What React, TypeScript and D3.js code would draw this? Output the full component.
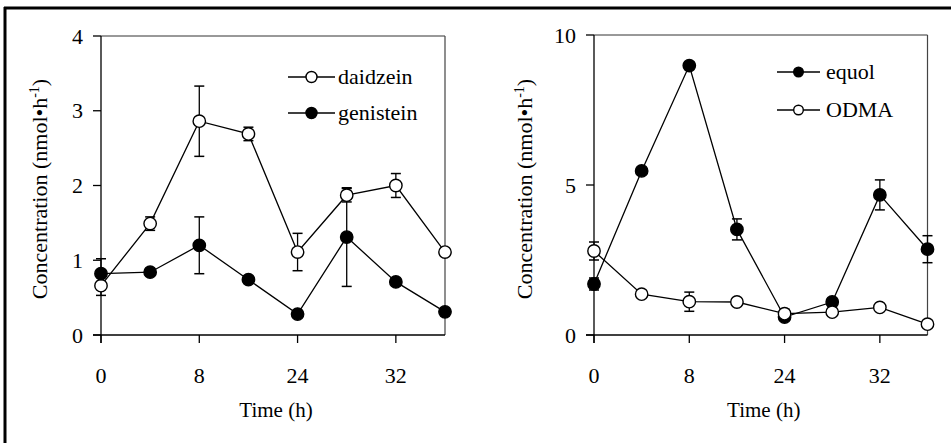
import React from "react";
import * as d3 from "d3";

// sample order (x positions are categorical, evenly spaced)
const sampleIdx = [0, 1, 2, 3, 4, 5, 6, 7];
const xTickIdx = [0, 2, 4, 6];
const xTickLabels = ["0", "8", "24", "32"];

// left panel
const daidzein = [0.66, 1.49, 2.86, 2.69, 1.11, 1.87, 2.0, 1.11];
const daidzeinErr = [0.13, 0.09, 0.47, 0.09, 0.25, 0.09, 0.16, 0];
const genistein = [0.82, 0.84, 1.2, 0.74, 0.28, 1.31, 0.71, 0.31];
const genisteinErr = [0.2, 0.04, 0.38, 0.04, 0.03, 0.66, 0.03, 0];
const leftYTicks = [0, 1, 2, 3, 4];

// right panel
const equol = [1.7, 5.47, 8.98, 3.52, 0.6, 1.1, 4.67, 2.86];
const equolErr = [0.2, 0.05, 0.12, 0.35, 0.05, 0.05, 0.5, 0.45];
const odma = [2.8, 1.36, 1.11, 1.1, 0.71, 0.76, 0.92, 0.36];
const odmaErr = [0.3, 0.05, 0.32, 0.1, 0.15, 0.03, 0.03, 0];
const rightYTicks = [0, 5, 10];

const FONT = "Liberation Serif, Times New Roman, DejaVu Serif, serif";
const tStyle = { fontFamily: FONT };

type Series = { name: string; values: number[]; err: number[]; filled: boolean };

function Panel(props: {
  x0: number; x1: number; yTop: number; yBot: number; yMax: number; yTicks: number[];
  series: Series[]; titleX: number;
  legend: { x0: number; x1: number; ys: number[]; r: number; textX: number };
}) {
  const { x0, x1, yTop, yBot, yMax, yTicks, series, titleX, legend } = props;
  const x = d3.scaleLinear().domain([0, 7]).range([x0, x1]);
  const y = d3.scaleLinear().domain([0, yMax]).range([yBot, yTop]);
  const line = d3.line<number>().x((_, i) => x(sampleIdx[i])).y((v) => y(v));
  const r = 6.2;
  return (
    <g>
      {/* frame */}
      <line x1={x0} x2={x1} y1={yTop} y2={yTop} stroke="#333" strokeWidth={1} />
      <line x1={x1} x2={x1} y1={yTop} y2={yBot} stroke="#444" strokeWidth={1.2} />
      {/* axes */}
      <line x1={x0} x2={x0} y1={yTop} y2={yBot + 8} stroke="#000" strokeWidth={1.3} />
      <line x1={x0 - 8} x2={x1} y1={yBot} y2={yBot} stroke="#000" strokeWidth={1.3} />
      {yTicks.map((t) => (
        <g key={"yt" + t}>
          <line x1={x0 - 8} x2={x0} y1={y(t)} y2={y(t)} stroke="#000" strokeWidth={1.3} />
          <text x={x0 - 18} y={y(t)} dy="0.35em" textAnchor="end" style={tStyle} fontSize={22}>{t}</text>
        </g>
      ))}
      {xTickIdx.map((t, i) => (
        <g key={"xt" + t}>
          <line x1={x(t)} x2={x(t)} y1={yBot} y2={yBot + 8} stroke="#000" strokeWidth={1.3} />
          <text x={x(t)} y={383} textAnchor="middle" style={tStyle} fontSize={22}>{xTickLabels[i]}</text>
        </g>
      ))}
      <text x={(x0 + x1) / 2 + 3} y={417} textAnchor="middle" style={tStyle} fontSize={21}>Time (h)</text>
      <text transform={`translate(${titleX},189) rotate(-90)`} textAnchor="middle" style={tStyle} fontSize={22}>
        Concentration (nmol•h<tspan fontSize={14} dy={-8}>-1</tspan><tspan dy={8}>)</tspan>
      </text>
      {/* series */}
      {series.map((s) => (
        <g key={s.name}>
          <path d={line(s.values) || ""} fill="none" stroke="#000" strokeWidth={1.3} />
          {s.values.map((v, i) => s.err[i] > 0 ? (
            <g key={"e" + i}>
              <line x1={x(sampleIdx[i])} x2={x(sampleIdx[i])} y1={y(v - s.err[i])} y2={y(v + s.err[i])} stroke="#000" strokeWidth={1.3} />
              <line x1={x(sampleIdx[i]) - 5} x2={x(sampleIdx[i]) + 5} y1={y(v - s.err[i])} y2={y(v - s.err[i])} stroke="#000" strokeWidth={1.5} />
              <line x1={x(sampleIdx[i]) - 5} x2={x(sampleIdx[i]) + 5} y1={y(v + s.err[i])} y2={y(v + s.err[i])} stroke="#000" strokeWidth={1.5} />
            </g>
          ) : null)}
        </g>
      ))}
      {series.map((s) => (
        <g key={s.name + "m"}>
          {s.values.map((v, i) => (
            <circle key={i} cx={x(sampleIdx[i])} cy={y(v)} r={r} fill={s.filled ? "#000" : "#fff"} stroke="#000" strokeWidth={1.4} />
          ))}
        </g>
      ))}
      {/* legend */}
      {series.map((s, i) => (
        <g key={s.name + "l"}>
          <line x1={legend.x0} x2={legend.x1} y1={legend.ys[i]} y2={legend.ys[i]} stroke="#000" strokeWidth={1.3} />
          <circle cx={(legend.x0 + legend.x1) / 2} cy={legend.ys[i]} r={legend.r} fill={s.filled ? "#000" : "#fff"} stroke="#000" strokeWidth={1.4} />
          <text x={legend.textX} y={legend.ys[i]} dy="0.32em" style={tStyle} fontSize={22}>{s.name}</text>
        </g>
      ))}
    </g>
  );
}

export default function App() {
  return (
    <svg width={951} height={443} style={{ position: "absolute", left: 0, top: 0, background: "#fff" }}>
      <rect x={0} y={0} width={951} height={443} fill="#fff" />
      <line x1={4} x2={951} y1={8} y2={8} stroke="#000" strokeWidth={3} />
      <line x1={5} x2={5} y1={7} y2={443} stroke="#000" strokeWidth={3} />
      <Panel
        x0={101} x1={445} yTop={36} yBot={335} yMax={4} yTicks={leftYTicks}
        titleX={47}
        series={[
          { name: "daidzein", values: daidzein, err: daidzeinErr, filled: false },
          { name: "genistein", values: genistein, err: genisteinErr, filled: true },
        ]}
        legend={{ x0: 288, x1: 335, ys: [77, 113], r: 5.5, textX: 338 }}
      />
      <Panel
        x0={594} x1={927.5} yTop={35} yBot={335} yMax={10} yTicks={rightYTicks}
        titleX={532}
        series={[
          { name: "equol", values: equol, err: equolErr, filled: true },
          { name: "ODMA", values: odma, err: odmaErr, filled: false },
        ]}
        legend={{ x0: 777, x1: 820, ys: [72, 110], r: 4.8, textX: 826 }}
      />
    </svg>
  );
}
